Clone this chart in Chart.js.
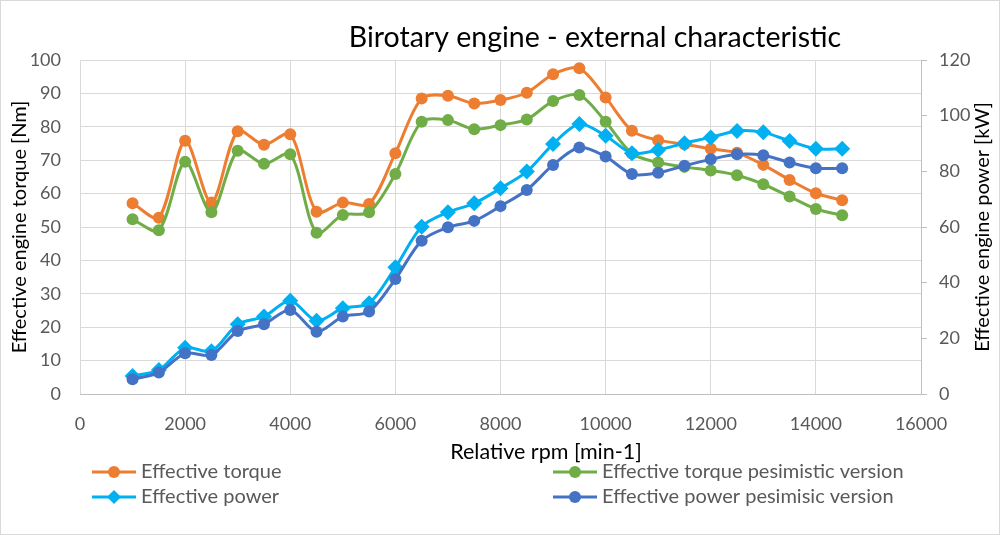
<!DOCTYPE html>
<html>
<head>
<meta charset="utf-8">
<script src="https://cdn.jsdelivr.net/npm/chart.js@4.4.1/dist/chart.umd.min.js"></script>
<style>
  html, body { margin: 0; padding: 0; background: #fff; }
  #wrap { width: 1000px; height: 535px; position: relative; }
</style>
</head>
<body>
<div id="wrap"><canvas id="engineChart" width="1000" height="535"></canvas></div>
<script>
const rpm = [1000, 1500, 2000, 2500, 3000, 3500, 4000, 4500, 5000, 5500, 6000, 6500, 7000, 7500,
             8000, 8500, 9000, 9500, 10000, 10500, 11000, 11500, 12000, 12500, 13000, 13500, 14000, 14500];

// torque [Nm], left axis
const torque = [57.1, 52.8, 75.8, 57.3, 78.7, 74.6, 77.8, 54.6, 57.3, 56.9, 72.1, 88.5, 89.3, 87.0,
                88.0, 90.2, 95.7, 97.5, 88.8, 78.8, 76.0, 74.8, 73.4, 72.2, 68.6, 64.1, 60.1, 58.0];
const torquePes = [52.3, 49.0, 69.5, 54.4, 72.8, 68.9, 71.8, 48.3, 53.6, 54.4, 65.9, 81.5, 82.0, 79.3,
                   80.5, 82.2, 87.7, 89.5, 81.5, 72.0, 69.3, 68.0, 66.9, 65.5, 62.8, 59.1, 55.4, 53.5];

// power [kW], right axis
const power = [6.5, 8.6, 16.6, 15.4, 25.1, 27.8, 33.5, 26.3, 30.8, 32.6, 45.5, 60.1, 65.3, 68.5,
               73.9, 79.9, 89.8, 97.0, 92.8, 86.5, 87.7, 90.1, 92.2, 94.5, 94.0, 90.9, 88.1, 88.1];
const powerPes = [5.3, 7.7, 14.6, 14.0, 22.6, 25.1, 30.2, 22.4, 27.8, 29.6, 41.3, 55.1, 59.9, 62.2,
                  67.5, 73.3, 82.3, 88.6, 85.3, 79.0, 79.5, 82.0, 84.3, 86.1, 85.8, 83.2, 81.1, 81.1];

const seriesNames = ['Effective torque', 'Effective torque pesimistic version',
                     'Effective power', 'Effective power pesimisic version'];
const seriesColors = ['#ED7D31', '#70AD47', '#00B0F0', '#4472C4'];

const FONT = 'Lato, "Open Sans", sans-serif';
const pts = arr => arr.map((v, i) => ({ x: rpm[i], y: v }));

// white background, frame, titles (Excel puts the x title off-centre and the right title bottom-up)
const framePlugin = {
    id: 'frame',
    beforeDraw(chart) {
        const c = chart.ctx;
        c.save();
        c.fillStyle = '#fff';
        c.fillRect(0, 0, chart.width, chart.height);
        c.strokeStyle = '#d9d9d9';
        c.lineWidth = 1;
        c.strokeRect(0.5, 0.5, chart.width - 1, chart.height - 1);
        c.fillStyle = '#000';
        c.textAlign = 'center';
        c.textBaseline = 'middle';
        c.font = '28.5px ' + FONT;
        c.fillText('Birotary engine - external characteristic', 595, 38);
        c.font = '21.5px ' + FONT;
        c.fillText('Relative rpm [min-1]', 546, 452);
        const a = chart.chartArea;
        c.translate(983, (a.top + a.bottom) / 2);
        c.rotate(-Math.PI / 2);
        c.font = '20px ' + FONT;
        c.fillText('Effective engine power [kW]', 0, 0);
        c.restore();
    }
};

// two-column legend under the axis title
const legendPlugin = {
    id: 'twoColLegend',
    afterDraw(chart) {
        const c = chart.ctx;
        const spots = [[92, 472], [553, 472], [92, 497], [553, 497]];
        c.save();
        c.font = '20px ' + FONT;
        c.textBaseline = 'middle';
        c.textAlign = 'left';
        chart.data.datasets.forEach((ds, i) => {
            const [x, y] = spots[i];
            c.strokeStyle = ds.borderColor;
            c.lineWidth = 3;
            c.beginPath(); c.moveTo(x, y); c.lineTo(x + 44, y); c.stroke();
            c.fillStyle = ds.borderColor;
            c.beginPath();
            if (ds.pointStyle === 'rectRot') {
                c.moveTo(x + 22, y - 7); c.lineTo(x + 29, y); c.lineTo(x + 22, y + 7); c.lineTo(x + 15, y);
            } else {
                c.arc(x + 22, y, 6, 0, Math.PI * 2);
            }
            c.fill();
            c.fillStyle = '#595959';
            c.fillText(ds.label, x + 49, y);
        });
        c.restore();
    }
};

const mk = (i, data, axis, style, ord) => ({
    label: seriesNames[i],
    data: pts(data),
    borderColor: seriesColors[i],
    backgroundColor: seriesColors[i],
    borderWidth: 3,
    pointStyle: style,
    pointRadius: style === 'rectRot' ? 8 : 6,
    pointBorderWidth: 0,
    tension: 0.3,
    yAxisID: axis,
    order: ord
});

new Chart(document.getElementById('engineChart').getContext('2d'), {
    type: 'line',
    data: {
        datasets: [
            mk(0, torque, 'y', 'circle', 3),
            mk(1, torquePes, 'y', 'circle', 2),
            mk(2, power, 'y1', 'rectRot', 1),
            mk(3, powerPes, 'y1', 'circle', 0)
        ]
    },
    options: {
        responsive: false,
        animation: false,
        layout: { padding: { top: 60, bottom: 71, left: 0, right: 0 } },
        plugins: { legend: { display: false }, tooltip: { enabled: false }, title: { display: false } },
        scales: {
            x: {
                type: 'linear', min: 0, max: 16000,
                ticks: { stepSize: 2000, color: '#595959', font: { size: 18, family: FONT }, padding: 19, maxRotation: 0,
                         callback: v => String(v) },
                grid: { color: '#d9d9d9', drawTicks: false },
                border: { color: '#bfbfbf' },
                title: { display: false },
                afterFit(s) { s.height = 70; }
            },
            y: {
                position: 'left', min: 0, max: 100,
                ticks: { stepSize: 10, color: '#595959', font: { size: 18, family: FONT }, padding: 19 },
                grid: { color: '#d9d9d9', drawTicks: false },
                border: { display: false },
                title: { display: true, text: 'Effective engine torque [Nm]', color: '#000', font: { size: 20, family: FONT }, padding: { top: 8, bottom: 0 } },
                afterFit(s) { s.width = 80; }
            },
            y1: {
                position: 'right', min: 0, max: 120,
                ticks: { stepSize: 20, color: '#595959', font: { size: 18, family: FONT }, padding: 12 },
                grid: { drawOnChartArea: false, drawTicks: true, tickLength: 6, color: '#bfbfbf' },
                border: { color: '#bfbfbf' },
                title: { display: false },
                afterFit(s) { s.width = 79; }
            }
        }
    },
    plugins: [framePlugin, legendPlugin]
});
</script>
</body>
</html>
